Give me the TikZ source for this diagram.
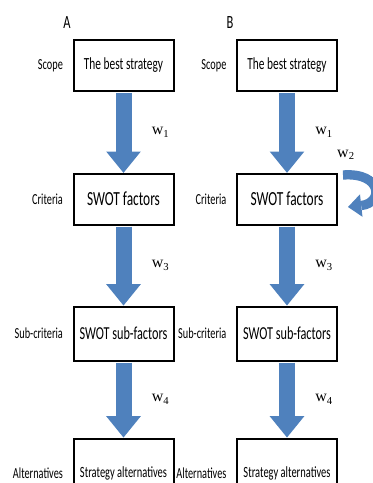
\documentclass[tikz,border=0pt]{standalone}
\usepackage{fontspec}
\setmainfont[FakeStretch=0.67]{Carlito}
\newfontfamily\wfont{Liberation Serif}
\usetikzlibrary{arrows.meta, positioning}
\definecolor{flowblue}{RGB}{79,129,189}

\begin{document}
\begin{tikzpicture}[x=0.75pt, y=-0.75pt,
    level/.style={draw=black, line width=1.5pt, fill=white, minimum width=75pt,
                  minimum height=38pt, inner sep=2pt, align=center},
    tag/.style={font=\fontsize{11.5}{13}\selectfont, inner sep=2pt},
    flow/.style={draw=flowblue, line width=12pt, shorten <=0.75pt,
                 -{Triangle[width=26pt, length=16pt, line width=0pt]}},
    curl/.style={draw=flowblue, line width=7pt,
                 -{Triangle[width=17pt, length=10pt, line width=0pt]}},
    weight/.style={font=\wfont\fontsize{12}{14}\selectfont, right=12pt}
]
    \useasboundingbox (0,0) rectangle (373,483);

    % panel A
    \node[font=\fontsize{14}{16}\selectfont] (pa) at (67,23) {A};
    \node[level, font=\fontsize{12.75}{14}\selectfont] (a1) at (123.5,65.5) {The best strategy};
    \node[level, below=60.75pt of a1, font=\fontsize{15}{17}\selectfont] (a2) {SWOT factors};
    \node[level, below=60pt of a2, minimum height=40.5pt, font=\fontsize{13.7}{15}\selectfont] (a3) {SWOT sub-factors};
    \node[level, below=57pt of a3, minimum height=52pt, font=\fontsize{11.7}{13}\selectfont] (a4) {Strategy alternatives};

    \node[tag, left=5pt of a1] (sa1) {Scope};
    \node[tag, left=5pt of a2] (sa2) {Criteria};
    \node[tag, left=5pt of a3] (sa3) {Sub-criteria};
    \node[tag, left=5pt of a4] (sa4) {Alternatives};

    \draw[flow] (a1) -- node[weight] {w\textsubscript{1}} (a2);
    \draw[flow] (a2) -- node[weight] {w\textsubscript{3}} (a3);
    \draw[flow] (a3) -- node[weight] {w\textsubscript{4}} (a4);

    % panel B
    \node[font=\fontsize{14}{16}\selectfont] (pb) at (230,23) {B};
    \node[level, font=\fontsize{12.75}{14}\selectfont] (b1) at (287,65.5) {The best strategy};
    \node[level, below=60.75pt of b1, font=\fontsize{15}{17}\selectfont] (b2) {SWOT factors};
    \node[level, below=60pt of b2, minimum height=40.5pt, font=\fontsize{13.7}{15}\selectfont] (b3) {SWOT sub-factors};
    \node[level, below=57pt of b3, minimum height=52pt, font=\fontsize{11.7}{13}\selectfont] (b4) {Strategy alternatives};

    \node[tag, left=5pt of b1] (sb1) {Scope};
    \node[tag, left=5pt of b2] (sb2) {Criteria};
    \node[tag, left=5pt of b3] (sb3) {Sub-criteria};
    \node[tag, left=5pt of b4] (sb4) {Alternatives};

    \draw[flow] (b1) -- node[weight] {w\textsubscript{1}} (b2);
    \draw[flow] (b2) -- node[weight] {w\textsubscript{3}} (b3);
    \draw[flow] (b3) -- node[weight] {w\textsubscript{4}} (b4);

    % self weight on the criteria level
    \coordinate (w2s) at (343,175);
    \coordinate (w2e) at (348,207);
    \draw[curl] (w2s) .. controls (382,172) and (384,203) .. (w2e);
    \node[font=\wfont\fontsize{12}{14}\selectfont] (w2) at (346,155) {w\textsubscript{2}};
\end{tikzpicture}
\end{document}
